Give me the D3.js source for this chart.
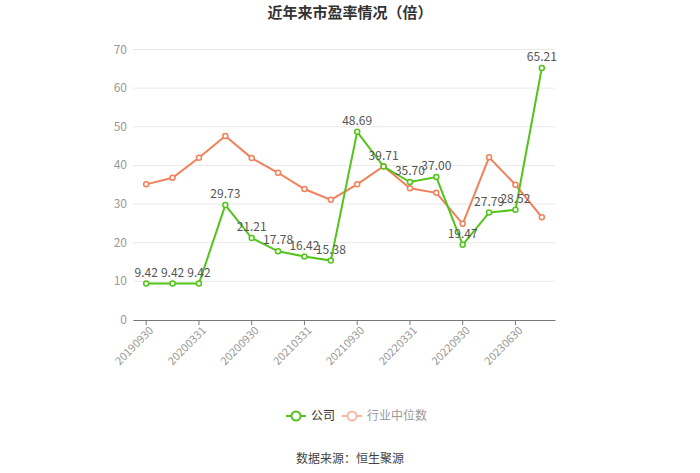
<!DOCTYPE html>
<html><head><meta charset="utf-8">
<script src="https://cdn.jsdelivr.net/npm/d3@7/dist/d3.min.js"></script>
<style>body{margin:0;background:#fff;font-family:"Noto Sans CJK SC","Noto Sans",sans-serif;}</style>
</head><body><svg id="c" width="700" height="473"></svg>
<script>
const categories = ["20190930","20191231","20200331","20200630","20200930","20201231","20210331","20210630","20210930","20211231","20220331","20220630","20220930","20221231","20230630","20230930"];
const tickLabels = ["20190930","20200331","20200930","20210331","20210930","20220331","20220930","20230630"];
const company = [9.42,9.42,9.42,29.73,21.21,17.78,16.42,15.38,48.69,39.71,35.70,37.00,19.47,27.79,28.52,65.21];
const industry = [35.1,36.8,42.0,47.6,41.9,38.1,33.9,31.1,35.1,39.8,34.1,32.9,24.9,42.1,35.0,26.6];
const yTicks = [0,10,20,30,40,50,60,70];

const svg = d3.select("#c");
const green = "#52c41a", orange = "#f2805a";
const x = d3.scaleBand().domain(categories).range([133,555]);
const cx = d => x(d) + x.bandwidth()/2;
const y = d3.scaleLinear().domain([0,70]).range([320,49.5]);

svg.append("text").attr("x",350).attr("y",18).attr("text-anchor","middle")
  .attr("font-size",15).attr("font-weight","bold").attr("fill","#333").text("近年来市盈率情况（倍）");

// grid
svg.append("g").selectAll("line").data(yTicks.filter(v=>v>0)).join("line")
  .attr("x1",133).attr("x2",555).attr("y1",d=>y(d)).attr("y2",d=>y(d))
  .attr("stroke","#e9e9e9").attr("stroke-width",1);
svg.append("g").selectAll("text").data(yTicks).join("text")
  .attr("x",127).attr("y",d=>y(d)+4).attr("text-anchor","end")
  .attr("font-size",12).attr("fill","#999").text(d=>d);

// x axis
const xAxis = d3.axisBottom(x).tickValues(tickLabels).tickSize(5).tickSizeOuter(0);
const gx = svg.append("g").attr("transform","translate(0,320)").call(xAxis);
gx.select(".domain").attr("stroke","#777");
gx.selectAll(".tick line").attr("stroke","#777");
gx.selectAll(".tick text").attr("font-size",11).attr("fill","#999")
  .attr("font-family","Noto Sans CJK SC, Noto Sans, sans-serif")
  .attr("text-anchor","end").attr("dx","-0.2em").attr("dy","0.5em")
  .attr("transform","rotate(-45)");

const line = d3.line().x((d,i)=>cx(categories[i])).y(d=>y(d));
function series(data,color){
  const g = svg.append("g");
  g.append("path").datum(data).attr("d",line).attr("fill","none").attr("stroke",color).attr("stroke-width",2);
  g.selectAll("circle").data(data).join("circle")
    .attr("cx",(d,i)=>cx(categories[i])).attr("cy",d=>y(d)).attr("r",2.5)
    .attr("fill","#fff").attr("stroke",color).attr("stroke-width",1.5);
}
series(industry,orange);
series(company,green);

svg.append("g").selectAll("text").data(company).join("text")
  .attr("x",(d,i)=>cx(categories[i])).attr("y",d=>y(d)-7)
  .attr("text-anchor","middle").attr("font-size",12).attr("fill","#555")
  .text(d=>d.toFixed(2));

// legend
const lg = svg.append("g");
lg.append("line").attr("x1",286).attr("x2",306).attr("y1",416).attr("y2",416).attr("stroke",green).attr("stroke-width",2);
lg.append("circle").attr("cx",296).attr("cy",416).attr("r",4.5).attr("fill","#fff").attr("stroke",green).attr("stroke-width",2);
lg.append("text").attr("x",311).attr("y",420).attr("font-size",12).attr("fill","#333").text("公司");
lg.append("line").attr("x1",342).attr("x2",362).attr("y1",416).attr("y2",416).attr("stroke","#f7b9a2").attr("stroke-width",2);
lg.append("circle").attr("cx",352).attr("cy",416).attr("r",4.5).attr("fill","#fff").attr("stroke","#f7b9a2").attr("stroke-width",2);
lg.append("text").attr("x",367).attr("y",420).attr("font-size",12).attr("fill","#999").text("行业中位数");

svg.append("text").attr("x",350).attr("y",463).attr("text-anchor","middle")
  .attr("font-size",12).attr("fill","#444").text("数据来源：恒生聚源");
</script></body></html>
